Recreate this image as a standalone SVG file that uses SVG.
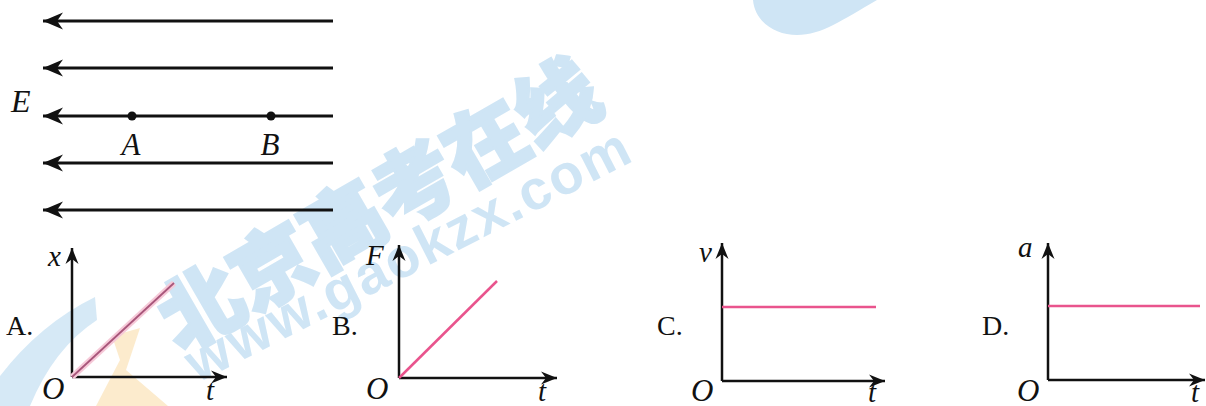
<svg xmlns="http://www.w3.org/2000/svg" width="1206" height="406" viewBox="0 0 1206 406">
<style>
.fl{stroke:#111;stroke-width:3;fill:none}
.ax{stroke:#111;stroke-width:2.5;fill:none}
.pk{stroke:#e9548d;stroke-width:2.5;fill:none}
.it{font-family:"Liberation Serif",serif;font-style:italic;fill:#111}
.up{font-family:"Liberation Serif",serif;fill:#111;font-size:28px}
.wm{fill:#cfe5f5}
</style>
<defs>
<marker id="fa" markerUnits="userSpaceOnUse" markerWidth="24" markerHeight="20" viewBox="-22 -10 24 20" refX="0" refY="0" orient="auto">
<path d="M0,0 L-20,-8.5 L-14,0 L-20,8.5 Z" fill="#111"/>
</marker>
<marker id="aa" markerUnits="userSpaceOnUse" markerWidth="20" markerHeight="16" viewBox="-18 -8 20 16" refX="0" refY="0" orient="auto">
<path d="M0,0 L-16,-6.5 L-11,0 L-16,6.5 Z" fill="#111"/>
</marker>
</defs>
<g id="watermark">
<path class="wm" d="M753,0 C755,22 775,35 797,35 C822,35 842,20 877,0 Z"/>
<path class="wm" d="M0,376 Q40,324 95,297 L97,320 Q54,348 30,406 L0,406 Z" opacity="0.85"/>
<path d="M112,336 L140,328 L126,370 L168,406 L96,406 L120,360 Z" fill="#fbe6c0" opacity="0.8"/>
<text x="0" y="0" transform="translate(376,200) rotate(-30)" text-anchor="middle" dominant-baseline="central" font-family="Noto Sans CJK SC, sans-serif" font-weight="900" font-size="82" class="wm" stroke="#cfe5f5" stroke-width="3">北京高考在线</text>
<text x="0" y="0" transform="translate(408,254) rotate(-27)" text-anchor="middle" dominant-baseline="central" font-family="Liberation Sans, Arial, sans-serif" font-weight="bold" font-size="56" letter-spacing="2" class="wm">www.gaokzx.com</text>
</g>
<g id="field">
<g id="connectors">
<line class="fl" x1="333" y1="21" x2="43" y2="21" marker-end="url(#fa)"/>
<line class="fl" x1="333" y1="68" x2="43" y2="68" marker-end="url(#fa)"/>
<line class="fl" x1="333" y1="116" x2="43" y2="116" marker-end="url(#fa)"/>
<line class="fl" x1="333" y1="163" x2="43" y2="163" marker-end="url(#fa)"/>
<line class="fl" x1="333" y1="210" x2="43" y2="210" marker-end="url(#fa)"/>
</g>
<text class="it" x="11" y="112" font-size="32">E</text>
<g id="pointA"><circle cx="132" cy="116" r="4.5" fill="#111"/><text class="it" x="131" y="155" font-size="31" text-anchor="middle">A</text></g>
<g id="pointB"><circle cx="271" cy="116" r="4.5" fill="#111"/><text class="it" x="270" y="155" font-size="31" text-anchor="middle">B</text></g>
</g>
<g id="graphA">
<line class="ax" x1="72" y1="377" x2="72" y2="248" marker-end="url(#aa)"/>
<line class="ax" x1="72" y1="377" x2="227" y2="377" marker-end="url(#aa)"/>
<line x1="72" y1="377" x2="174" y2="283" stroke="#f6c9d8" stroke-width="6"/>
<line x1="72" y1="377" x2="174" y2="283" stroke="#a9567b" stroke-width="1.8"/>
<text class="it" x="48" y="266" font-size="29">x</text>
<text class="up" x="6" y="335">A.</text>
<text class="it" x="42" y="399" font-size="31">O</text>
<text class="it" x="206" y="400" font-size="29">t</text>
</g>
<g id="graphB">
<line class="ax" x1="399" y1="378" x2="399" y2="245" marker-end="url(#aa)"/>
<line class="ax" x1="399" y1="378" x2="557" y2="378" marker-end="url(#aa)"/>
<line class="pk" x1="399" y1="378" x2="497" y2="281"/>
<text class="it" x="366" y="265" font-size="29">F</text>
<text class="up" x="332" y="335">B.</text>
<text class="it" x="366" y="399" font-size="31">O</text>
<text class="it" x="538" y="401" font-size="29">t</text>
</g>
<g id="graphC">
<line class="ax" x1="722" y1="381" x2="722" y2="243" marker-end="url(#aa)"/>
<line class="ax" x1="722" y1="381" x2="885" y2="381" marker-end="url(#aa)"/>
<line class="pk" x1="722" y1="307" x2="876" y2="307"/>
<text class="it" x="699" y="262" font-size="29">v</text>
<text class="up" x="657" y="335">C.</text>
<text class="it" x="691" y="401" font-size="31">O</text>
<text class="it" x="868" y="402" font-size="29">t</text>
</g>
<g id="graphD">
<line class="ax" x1="1048" y1="380" x2="1048" y2="243" marker-end="url(#aa)"/>
<line class="ax" x1="1048" y1="380" x2="1205" y2="380" marker-end="url(#aa)"/>
<line class="pk" x1="1048" y1="306" x2="1200" y2="306"/>
<text class="it" x="1018" y="257" font-size="29">a</text>
<text class="up" x="982" y="335">D.</text>
<text class="it" x="1017" y="401" font-size="31">O</text>
<text class="it" x="1191" y="402" font-size="29">t</text>
</g>
</svg>
